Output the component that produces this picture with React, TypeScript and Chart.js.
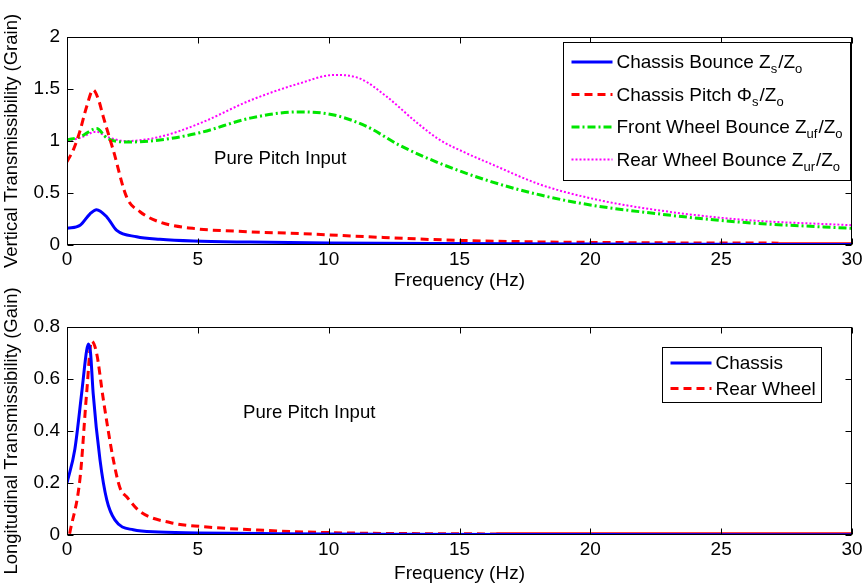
import React, { useEffect, useRef } from 'react';
import { Chart, registerables } from 'chart.js';

Chart.register(...registerables);

const FONT = '"Liberation Sans", Arial, Helvetica, sans-serif';

// ---------- data ----------
const xTicks = [0, 5, 10, 15, 20, 25, 30];
const topYTicks = [0, 0.5, 1, 1.5, 2];
const bottomYTicks = [0, 0.2, 0.4, 0.6, 0.8];

// Top plot: vertical transmissibility
const bounceFreq = [0, 0.5, 0.88, 1.13, 1.52, 1.9, 2.66, 3.55, 4.83, 7, 10, 14, 20, 25, 30];
const bounceGain = [0.16, 0.19, 0.3, 0.34, 0.27, 0.14, 0.08, 0.055, 0.038, 0.028, 0.02, 0.014, 0.009, 0.007, 0.005];

const pitchFreq = [0, 0.25, 0.5, 0.75, 1.0, 1.2, 1.39, 1.77, 2.28, 2.79, 3.55, 4.8, 6.9, 8.9, 11.45, 14.5, 18, 22, 27.2];
const pitchGain = [0.8, 0.92, 1.1, 1.33, 1.49, 1.4, 1.23, 0.91, 0.46, 0.32, 0.22, 0.16, 0.128, 0.11, 0.08, 0.048, 0.03, 0.022, 0.018];
const pitchTailFreq = [27.2, 30];
const pitchTailGain = [0.012, 0.012];

const frontFreq = [0, 0.5, 1.13, 1.52, 2.28, 3.55, 5.08, 7.0, 8.9, 10.2, 11.45, 12.7, 14.25, 16.2, 18.1, 20, 21.9, 25.7, 30];
const frontGain = [1.01, 1.04, 1.12, 1.03, 0.99, 1.01, 1.08, 1.22, 1.28, 1.25, 1.14, 0.96, 0.785, 0.61, 0.48, 0.385, 0.32, 0.22, 0.16];

const rearFreq = [0, 0.5, 1.13, 1.52, 2.28, 3.55, 5.08, 7.0, 8.9, 10.2, 11.2, 12.2, 13.4, 14.25, 15.2, 16.2, 18.1, 20, 21.9, 25.7, 30];
const rearGain = [1.0, 1.03, 1.09, 1.04, 1.0, 1.04, 1.17, 1.39, 1.555, 1.635, 1.6, 1.43, 1.17, 1.01, 0.89, 0.78, 0.58, 0.45, 0.36, 0.245, 0.19];

// Bottom plot: longitudinal transmissibility
const chassisFreq = [0, 0.3, 0.56, 0.75, 0.82, 0.9, 1.0, 1.26, 1.52, 1.83, 2.53, 3.5, 5, 8, 12, 20, 30];
const chassisGain = [0.2, 0.33, 0.545, 0.71, 0.735, 0.7, 0.545, 0.29, 0.135, 0.058, 0.02, 0.012, 0.008, 0.005, 0.003, 0.002, 0.001];

const rearLongFreq = [0.1, 0.5, 0.75, 0.94, 1.13, 1.39, 1.77, 2.03, 2.28, 2.79, 3.94, 5.46, 7.5, 9.67, 11.7, 16.4];
const rearLongGain = [0.005, 0.22, 0.545, 0.745, 0.7, 0.52, 0.29, 0.18, 0.147, 0.09, 0.048, 0.03, 0.018, 0.01, 0.0065, 0.004];
const rearLongTailFreq = [16.4, 30];
const rearLongTailGain = [0.005, 0.005];

const topNote = { text: 'Pure Pitch Input', x: 5.62, y: 0.827 };
const bottomNote = { text: 'Pure Pitch Input', x: 6.73, y: 0.469 };

// ---------- styles ----------
const BLUE = '#0000ff';
const RED = '#ff0000';
const GREEN = '#00e600';
const MAGENTA = '#ff00ff';

const SOLID: number[] = [];
const DASHED = [8, 5];
const DASHDOT = [8, 3, 2, 3];
const DOTTED = [2, 2];

type Part = [string, boolean];
type LegendItem = { color: string; dash: number[]; width: number; parts: Part[] };

const topLegend: LegendItem[] = [
  { color: BLUE, dash: SOLID, width: 3, parts: [['Chassis Bounce Z', false], ['s', true], ['/Z', false], ['o', true]] },
  { color: RED, dash: DASHED, width: 3, parts: [['Chassis Pitch \u03A6', false], ['s', true], ['/Z', false], ['o', true]] },
  { color: GREEN, dash: DASHDOT, width: 3, parts: [['Front Wheel Bounce Z', false], ['uf', true], ['/Z', false], ['o', true]] },
  { color: MAGENTA, dash: DOTTED, width: 2, parts: [['Rear Wheel Bounce Z', false], ['ur', true], ['/Z', false], ['o', true]] },
];

const bottomLegend: LegendItem[] = [
  { color: BLUE, dash: SOLID, width: 3, parts: [['Chassis', false]] },
  { color: RED, dash: DASHED, width: 3, parts: [['Rear Wheel', false]] },
];

function pts(f: number[], v: number[]) {
  return f.map((x, i) => ({ x, y: v[i] }));
}

function ds(label: string, f: number[], v: number[], color: string, dash: number[], width: number) {
  return {
    label,
    data: pts(f, v),
    borderColor: color,
    backgroundColor: color,
    borderWidth: width,
    borderDash: dash,
    pointRadius: 0,
    fill: false,
    cubicInterpolationMode: 'monotone' as const,
    tension: 0.4,
  };
}

// ---------- plugins ----------
function framePlugin(yTicks: number[]) {
  return {
    id: 'frame',
    afterDatasetsDraw(chart: any) {
      const { ctx, chartArea } = chart;
      const l = Math.round(chartArea.left) + 0.5;
      const r = Math.round(chartArea.right) - 0.5;
      const t = Math.round(chartArea.top) + 0.5;
      const b = Math.round(chartArea.bottom) - 0.5;
      ctx.save();
      ctx.setLineDash([]);
      ctx.strokeStyle = '#000';
      ctx.lineWidth = 1;
      ctx.strokeRect(l, t, r - l, b - t);
      const TL = 6;
      ctx.beginPath();
      xTicks.forEach((v) => {
        const px = Math.round(chart.scales.x.getPixelForValue(v)) + 0.5;
        ctx.moveTo(px, b);
        ctx.lineTo(px, b - TL);
        ctx.moveTo(px, t);
        ctx.lineTo(px, t + TL);
      });
      yTicks.forEach((v) => {
        const py = Math.round(chart.scales.y.getPixelForValue(v)) + 0.5;
        ctx.moveTo(l, py);
        ctx.lineTo(l + TL, py);
        ctx.moveTo(r, py);
        ctx.lineTo(r - TL, py);
      });
      ctx.stroke();
      ctx.restore();
    },
  };
}

function notePlugin(note: { text: string; x: number; y: number }) {
  return {
    id: 'note',
    afterDraw(chart: any) {
      const { ctx } = chart;
      const px = chart.scales.x.getPixelForValue(note.x);
      const py = chart.scales.y.getPixelForValue(note.y);
      ctx.save();
      ctx.fillStyle = '#000';
      ctx.font = `18.6px ${FONT}`;
      ctx.textAlign = 'left';
      ctx.textBaseline = 'middle';
      ctx.fillText(note.text, px, py);
      ctx.restore();
    },
  };
}

function legendPlugin(items: LegendItem[], box: { right: number; top: number; w: number; h: number }, rows: number[]) {
  return {
    id: 'customLegend',
    afterDraw(chart: any) {
      const { ctx, chartArea } = chart;
      const bx = Math.round(chartArea.right - box.right - box.w) + 0.5;
      const by = Math.round(chartArea.top + box.top) + 0.5;
      ctx.save();
      ctx.fillStyle = '#fff';
      ctx.fillRect(bx, by, box.w, box.h);
      ctx.strokeStyle = '#000';
      ctx.lineWidth = 1;
      ctx.setLineDash([]);
      ctx.strokeRect(bx, by, box.w, box.h);
      items.forEach((it, i) => {
        const ry = by + rows[i];
        ctx.save();
        ctx.strokeStyle = it.color;
        ctx.lineWidth = it.width;
        ctx.setLineDash(it.dash);
        ctx.beginPath();
        ctx.moveTo(bx + 8, ry);
        ctx.lineTo(bx + 49, ry);
        ctx.stroke();
        ctx.restore();
        let tx = bx + 53;
        ctx.fillStyle = '#000';
        ctx.textAlign = 'left';
        ctx.textBaseline = 'alphabetic';
        it.parts.forEach(([txt, sub]) => {
          ctx.font = sub ? `13px ${FONT}` : `19px ${FONT}`;
          ctx.fillText(txt, tx, sub ? ry + 11 : ry + 6);
          tx += ctx.measureText(txt).width + (sub ? 1 : 0);
        });
      });
      ctx.restore();
    },
  };
}

function makeOptions(cfg: { padTop: number; xHeight: number; yMax: number; yTicks: number[]; yTitle: string }) {
  return {
    responsive: false,
    maintainAspectRatio: false,
    animation: false as const,
    layout: { padding: { top: cfg.padTop, right: 14, left: 0, bottom: 0 } },
    plugins: { legend: { display: false }, tooltip: { enabled: false } },
    elements: { point: { radius: 0 } },
    scales: {
      x: {
        type: 'linear' as const,
        min: 0,
        max: 30,
        grid: { display: false, drawTicks: false },
        border: { display: false },
        afterBuildTicks: (s: any) => {
          s.ticks = xTicks.map((v) => ({ value: v }));
        },
        ticks: {
          color: '#000',
          font: { family: FONT, size: 19 },
          padding: 3,
          maxRotation: 0,
          autoSkip: false,
          callback: (v: any) => String(v),
        },
        title: {
          display: true,
          text: 'Frequency (Hz)',
          color: '#000',
          font: { family: FONT, size: 19 },
          padding: { top: 0, bottom: 0 },
        },
        afterFit: (s: any) => {
          s.height = cfg.xHeight;
        },
      },
      y: {
        type: 'linear' as const,
        min: 0,
        max: cfg.yMax,
        grid: { display: false, drawTicks: false },
        border: { display: false },
        afterBuildTicks: (s: any) => {
          s.ticks = cfg.yTicks.map((v) => ({ value: v }));
        },
        ticks: {
          color: '#000',
          font: { family: FONT, size: 19 },
          padding: 7,
          autoSkip: false,
          callback: (v: any) => String(Math.round(Number(v) * 10) / 10),
        },
        title: {
          display: true,
          text: cfg.yTitle,
          color: '#000',
          font: { family: FONT, size: 18.5 },
          padding: { top: 1, bottom: 0 },
        },
        afterFit: (s: any) => {
          s.width = 67;
        },
      },
    },
  };
}

export default function App() {
  const topRef = useRef<HTMLCanvasElement>(null);
  const botRef = useRef<HTMLCanvasElement>(null);

  useEffect(() => {
    const top = new Chart(topRef.current as HTMLCanvasElement, {
      type: 'line',
      data: {
        datasets: [
          ds('Chassis Bounce', bounceFreq, bounceGain, BLUE, SOLID, 3),
          ds('Chassis Pitch', pitchFreq, pitchGain, RED, DASHED, 3),
          ds('Chassis Pitch tail', pitchTailFreq, pitchTailGain, RED, SOLID, 3),
          ds('Front Wheel Bounce', frontFreq, frontGain, GREEN, DASHDOT, 3),
          ds('Rear Wheel Bounce', rearFreq, rearGain, MAGENTA, DOTTED, 2),
        ],
      },
      options: makeOptions({
        padTop: 37,
        xHeight: 47,
        yMax: 2,
        yTicks: topYTicks,
        yTitle: 'Vertical Transmissibility (Grain)',
      }) as any,
      plugins: [
        framePlugin(topYTicks),
        notePlugin(topNote),
        legendPlugin(topLegend, { right: 2, top: 5, w: 287, h: 138 }, [19.5, 52, 84.5, 117]),
      ],
    });
    const bot = new Chart(botRef.current as HTMLCanvasElement, {
      type: 'line',
      data: {
        datasets: [
          ds('Chassis', chassisFreq, chassisGain, BLUE, SOLID, 3),
          ds('Rear Wheel', rearLongFreq, rearLongGain, RED, DASHED, 3),
          ds('Rear Wheel tail', rearLongTailFreq, rearLongTailGain, RED, SOLID, 3),
        ],
      },
      options: makeOptions({
        padTop: 65,
        xHeight: 50,
        yMax: 0.8,
        yTicks: bottomYTicks,
        yTitle: 'Longitudinal Transmissibility (Gain)',
      }) as any,
      plugins: [
        framePlugin(bottomYTicks),
        notePlugin(bottomNote),
        legendPlugin(bottomLegend, { right: 31, top: 20, w: 159, h: 55 }, [15.5, 41]),
      ],
    });
    return () => {
      top.destroy();
      bot.destroy();
    };
  }, []);

  return (
    <div style={{ position: 'absolute', left: 0, top: 0, width: 866, height: 585, background: '#fff' }}>
      <canvas ref={topRef} width={866} height={292} style={{ position: 'absolute', left: 0, top: 0, width: 866, height: 292 }} />
      <canvas ref={botRef} width={866} height={323} style={{ position: 'absolute', left: 0, top: 262, width: 866, height: 323 }} />
    </div>
  );
}
